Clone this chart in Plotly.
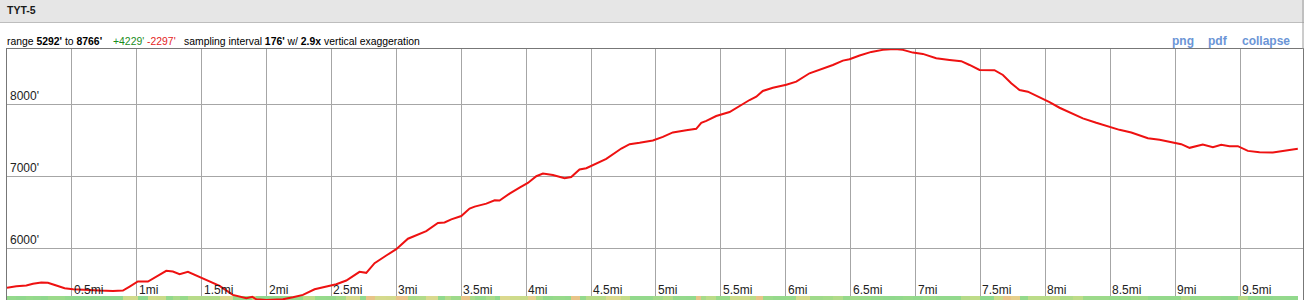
import plotly.graph_objects as go

# ---------------- data ----------------
title_text = "TYT-5"
range_min = 5292
range_max = 8766
gain_ft = 4229
loss_ft = 2297
sampling_interval = 176
exaggeration = 2.9

distance_mi = [
    0.00, 0.072, 0.149, 0.20, 0.264, 0.315, 0.380, 0.444, 0.508, 0.611,
    0.713, 0.816, 0.893, 0.945, 1.008, 1.086, 1.150, 1.227, 1.278, 1.330,
    1.394, 1.484, 1.561, 1.638, 1.740, 1.844, 1.890, 1.921, 1.998, 2.126,
    2.203, 2.280, 2.370, 2.460, 2.537, 2.614, 2.716, 2.768, 2.832, 2.922,
    2.999, 3.089, 3.153, 3.230, 3.320, 3.371, 3.423, 3.500, 3.564, 3.603,
    3.693, 3.757, 3.795, 3.872, 3.949, 4.013, 4.078, 4.129, 4.206, 4.296,
    4.347, 4.411, 4.463, 4.540, 4.617, 4.733, 4.797, 4.874, 4.976, 5.053,
    5.130, 5.233, 5.310, 5.349, 5.388, 5.464, 5.567, 5.721, 5.773, 5.823,
    5.901, 6.004, 6.081, 6.183, 6.286, 6.363, 6.440, 6.491, 6.569, 6.659,
    6.748, 6.838, 6.902, 6.979, 7.056, 7.159, 7.262, 7.352, 7.416, 7.493,
    7.608, 7.673, 7.737, 7.801, 7.865, 7.955, 8.032, 8.109, 8.212, 8.289,
    8.392, 8.494, 8.571, 8.662, 8.790, 8.880, 8.982, 9.047, 9.111, 9.213,
    9.291, 9.355, 9.419, 9.483, 9.560, 9.650, 9.753, 9.856, 9.945,
]
elevation_ft = [
    5460, 5482, 5492, 5516, 5534, 5530, 5492, 5455, 5441, 5437,
    5423, 5418, 5423, 5478, 5548, 5548, 5617, 5696, 5686, 5649,
    5682, 5607, 5548, 5488, 5363, 5316, 5335, 5302, 5292, 5302,
    5330, 5363, 5441, 5482, 5510, 5561, 5682, 5668, 5802, 5908,
    5996, 6140, 6186, 6246, 6357, 6366, 6408, 6454, 6557, 6584,
    6626, 6672, 6668, 6765, 6848, 6912, 7005, 7042, 7023, 6977,
    6995, 7098, 7116, 7181, 7245, 7389, 7449, 7467, 7500, 7550,
    7611, 7643, 7661, 7745, 7772, 7838, 7893, 8060, 8105, 8185,
    8230, 8272, 8314, 8430, 8494, 8545, 8605, 8625, 8675, 8726,
    8754, 8766, 8754, 8716, 8698, 8638, 8615, 8597, 8545, 8476,
    8472, 8407, 8291, 8198, 8175, 8097, 8032, 7953, 7875, 7806,
    7745, 7685, 7647, 7611, 7532, 7509, 7473, 7449, 7398, 7445,
    7407, 7439, 7421, 7421, 7356, 7338, 7334, 7366, 7384,
]
x_ticks = [0.5, 1, 1.5, 2, 2.5, 3, 3.5, 4, 4.5, 5, 5.5, 6, 6.5, 7, 7.5, 8, 8.5, 9, 9.5]
x_tick_labels = ["0.5mi", "1mi", "1.5mi", "2mi", "2.5mi", "3mi", "3.5mi", "4mi", "4.5mi",
                 "5mi", "5.5mi", "6mi", "6.5mi", "7mi", "7.5mi", "8mi", "8.5mi", "9mi", "9.5mi"]
y_ticks = [6000, 7000, 8000]
y_tick_labels = ["6000'", "7000'", "8000'"]
links = ["png", "pdf", "collapse"]

# ---------------- layout geometry ----------------
W, H = 1304, 300
ML, MR, MT, MB = 7, 1, 49, 0
PW, PH = W - ML - MR, H - MT - MB
X_MAX = 9.985

def px2x(px):
    return (px - ML) / PW

def py2y(py):
    return (H - MB - py) / PH

FONT = "Liberation Sans, Arial, sans-serif"

# slope strip derived from the profile
grades = []
for i in range(len(distance_mi) - 1):
    dd = (distance_mi[i + 1] - distance_mi[i]) * 5280.0
    de = elevation_ft[i + 1] - elevation_ft[i]
    grades.append(abs(de / dd * 100.0) if dd > 0 else 0)
strip_top = range_min + 4 / PH * (range_max - range_min)

fig = go.Figure()
fig.add_trace(go.Heatmap(
    x=distance_mi, y=[range_min, strip_top], z=[grades],
    colorscale=[[0, "#8ed88e"], [0.35, "#98da8a"], [0.6, "#c4dc88"],
                [0.85, "#e2d890"], [1, "#e8c488"]],
    zmin=0, zmax=30, showscale=False, hoverinfo="skip",
))
fig.add_trace(go.Scatter(
    x=distance_mi, y=elevation_ft, mode="lines",
    line=dict(color="#ee1111", width=2), hoverinfo="skip",
))

annotations = []
for v, t in zip(x_ticks, x_tick_labels):
    annotations.append(dict(
        x=v, xref="x", y=py2y(290.1), yref="paper", text=t, showarrow=False,
        xanchor="left", yanchor="middle", xshift=1, borderpad=0,
        font=dict(family=FONT, size=12, color="#222222"),
    ))
for v, t in zip(y_ticks, y_tick_labels):
    annotations.append(dict(
        x=0, xref="paper", y=v, yref="y", text=t, showarrow=False,
        xanchor="left", yanchor="middle", xshift=2, yshift=8.5, borderpad=0,
        font=dict(family=FONT, size=12, color="#222222"),
    ))

annotations.append(dict(
    x=px2x(6), xref="paper", y=py2y(10.5), yref="paper", text=f"<b>{title_text}</b>",
    showarrow=False, xanchor="left", yanchor="middle", borderpad=0,
    font=dict(family=FONT, size=10.5, color="#1a1a1a"),
))
info_y = py2y(41.2)
INFO_SIZE = 10.4
annotations.append(dict(
    x=px2x(6), xref="paper", y=info_y, yref="paper",
    text=f"range <b>{range_min}'</b> to <b>{range_max}'</b>",
    showarrow=False, xanchor="left", yanchor="middle", borderpad=0,
    font=dict(family=FONT, size=INFO_SIZE, color="#000000"),
))
annotations.append(dict(
    x=px2x(111.7), xref="paper", y=info_y, yref="paper",
    text=f"<span style='color:#1a8c1a'>+{gain_ft}'</span> <span style='color:#e41c1c'>-{loss_ft}'</span>",
    showarrow=False, xanchor="left", yanchor="middle", borderpad=0,
    font=dict(family=FONT, size=INFO_SIZE, color="#000000"),
))
annotations.append(dict(
    x=px2x(182.7), xref="paper", y=info_y, yref="paper",
    text=f"sampling interval <b>{sampling_interval}'</b> w/ <b>{exaggeration}x</b> vertical exaggeration",
    showarrow=False, xanchor="left", yanchor="middle", borderpad=0,
    font=dict(family=FONT, size=INFO_SIZE, color="#000000"),
))
for px, t in zip([1171, 1207.3, 1240.7], links):
    annotations.append(dict(
        x=px2x(px), xref="paper", y=info_y, yref="paper", text=f"<b>{t}</b>",
        showarrow=False, xanchor="left", yanchor="middle", borderpad=0,
        font=dict(family=FONT, size=12, color="#6b95d6"),
    ))

shapes = [
    dict(type="rect", xref="paper", yref="paper",
         x0=px2x(0), x1=px2x(W), y0=py2y(22), y1=py2y(0),
         fillcolor="#e6e6e6", line=dict(width=0), layer="below"),
    dict(type="line", xref="paper", yref="paper",
         x0=px2x(0), x1=px2x(W), y0=py2y(22.5), y1=py2y(22.5),
         line=dict(color="#bdbdbd", width=1)),
    dict(type="line", xref="paper", yref="paper",
         x0=1, x1=1, y0=1, y1=py2y(0),
         line=dict(color="#9a9a9a", width=1)),
]

fig.update_layout(
    width=W, height=H,
    margin=dict(l=ML, r=MR, t=MT, b=MB, pad=0),
    paper_bgcolor="white", plot_bgcolor="white",
    showlegend=False,
    annotations=annotations, shapes=shapes,
    xaxis=dict(range=[0, X_MAX], tickvals=x_ticks, showticklabels=False,
               showgrid=True, gridcolor="#a6a6a6", gridwidth=1, zeroline=False,
               showline=True, linecolor="#777777", linewidth=1, mirror=True,
               ticks="", fixedrange=True),
    yaxis=dict(range=[range_min, range_max], tickvals=y_ticks, showticklabels=False,
               showgrid=True, gridcolor="#a6a6a6", gridwidth=1, zeroline=False,
               showline=True, linecolor="#777777", linewidth=1, mirror=True,
               ticks="", fixedrange=True),
)

fig.write_html("out.html", config={"displayModeBar": False})
